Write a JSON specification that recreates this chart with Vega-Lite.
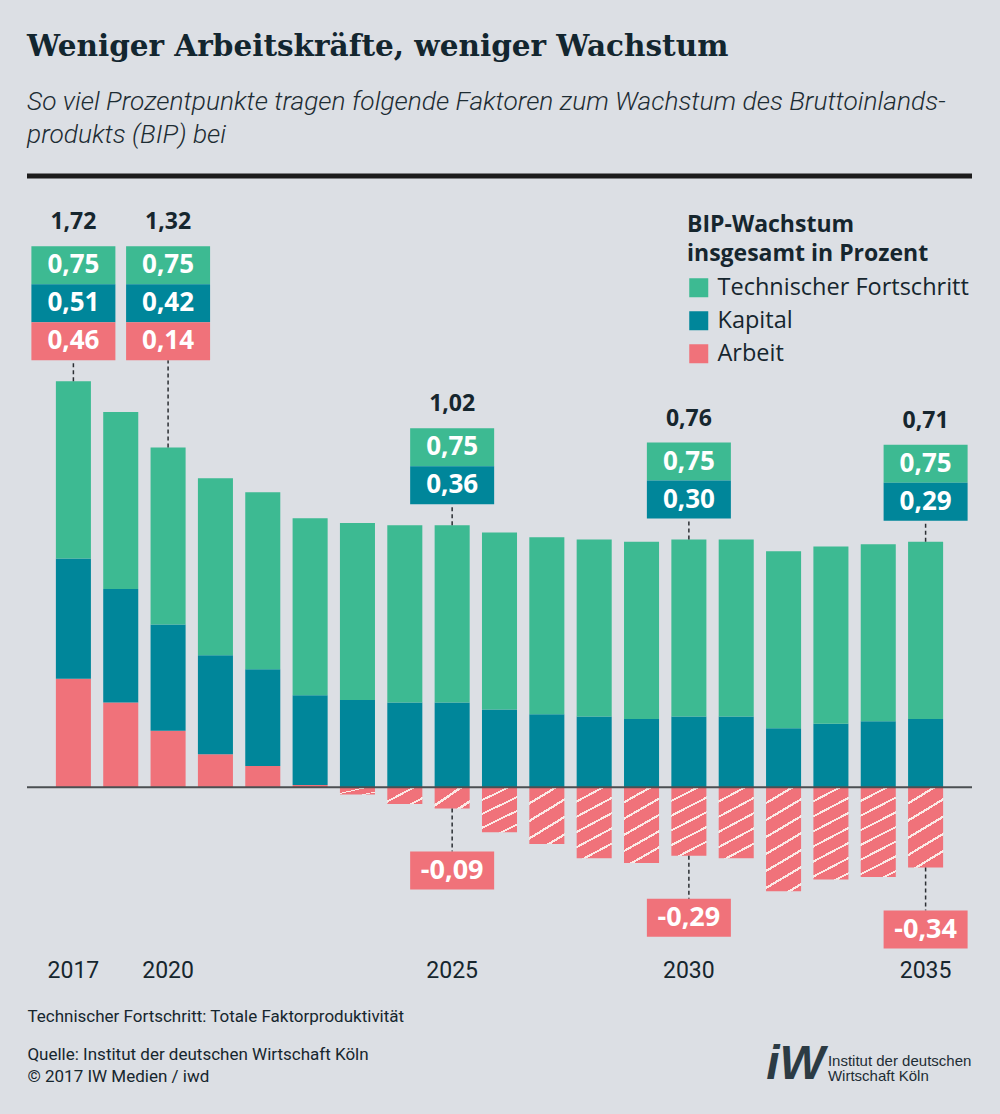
{
  "$schema": "https://vega.github.io/schema/vega-lite/v6.json",
  "width": 945,
  "height": 812,
  "padding": {"left": 24, "right": 31, "top": 31, "bottom": 40},
  "background": "#dcdfe4",
  "title": {
    "text": "Weniger Arbeitskräfte, weniger Wachstum",
    "subtitle": ["So viel Prozentpunkte tragen folgende Faktoren zum Wachstum des Bruttoinlands-", "produkts (BIP) bei"],
    "anchor": "start",
    "frame": "group",
    "font": "DejaVu Serif",
    "fontSize": 29.5,
    "fontWeight": "bold",
    "color": "#13262f",
    "subtitleFont": "Roboto",
    "subtitleFontSize": 26.3,
    "subtitleFontStyle": "italic",
    "subtitleFontWeight": 300,
    "subtitleColor": "#1d2c33",
    "subtitleLineHeight": 33,
    "subtitlePadding": 27,
    "offset": 24
  },
  "datasets": {
    "balken": [
      {"Jahr": "2017", "Faktor": "Arbeit", "Wert": 0.46}, {"Jahr": "2017", "Faktor": "Kapital", "Wert": 0.51}, {"Jahr": "2017", "Faktor": "Technischer Fortschritt", "Wert": 0.75},
      {"Jahr": "2018", "Faktor": "Arbeit", "Wert": 0.36}, {"Jahr": "2018", "Faktor": "Kapital", "Wert": 0.48}, {"Jahr": "2018", "Faktor": "Technischer Fortschritt", "Wert": 0.75},
      {"Jahr": "2019", "Faktor": "Arbeit", "Wert": 0.24}, {"Jahr": "2019", "Faktor": "Kapital", "Wert": 0.45}, {"Jahr": "2019", "Faktor": "Technischer Fortschritt", "Wert": 0.75},
      {"Jahr": "2020", "Faktor": "Arbeit", "Wert": 0.14}, {"Jahr": "2020", "Faktor": "Kapital", "Wert": 0.42}, {"Jahr": "2020", "Faktor": "Technischer Fortschritt", "Wert": 0.75},
      {"Jahr": "2021", "Faktor": "Arbeit", "Wert": 0.09}, {"Jahr": "2021", "Faktor": "Kapital", "Wert": 0.41}, {"Jahr": "2021", "Faktor": "Technischer Fortschritt", "Wert": 0.75},
      {"Jahr": "2022", "Faktor": "Arbeit", "Wert": 0.01}, {"Jahr": "2022", "Faktor": "Kapital", "Wert": 0.38}, {"Jahr": "2022", "Faktor": "Technischer Fortschritt", "Wert": 0.75},
      {"Jahr": "2023", "Faktor": "Arbeit", "Wert": -0.03}, {"Jahr": "2023", "Faktor": "Kapital", "Wert": 0.37}, {"Jahr": "2023", "Faktor": "Technischer Fortschritt", "Wert": 0.75},
      {"Jahr": "2024", "Faktor": "Arbeit", "Wert": -0.07}, {"Jahr": "2024", "Faktor": "Kapital", "Wert": 0.36}, {"Jahr": "2024", "Faktor": "Technischer Fortschritt", "Wert": 0.75},
      {"Jahr": "2025", "Faktor": "Arbeit", "Wert": -0.09}, {"Jahr": "2025", "Faktor": "Kapital", "Wert": 0.36}, {"Jahr": "2025", "Faktor": "Technischer Fortschritt", "Wert": 0.75},
      {"Jahr": "2026", "Faktor": "Arbeit", "Wert": -0.19}, {"Jahr": "2026", "Faktor": "Kapital", "Wert": 0.33}, {"Jahr": "2026", "Faktor": "Technischer Fortschritt", "Wert": 0.75},
      {"Jahr": "2027", "Faktor": "Arbeit", "Wert": -0.24}, {"Jahr": "2027", "Faktor": "Kapital", "Wert": 0.31}, {"Jahr": "2027", "Faktor": "Technischer Fortschritt", "Wert": 0.75},
      {"Jahr": "2028", "Faktor": "Arbeit", "Wert": -0.30}, {"Jahr": "2028", "Faktor": "Kapital", "Wert": 0.30}, {"Jahr": "2028", "Faktor": "Technischer Fortschritt", "Wert": 0.75},
      {"Jahr": "2029", "Faktor": "Arbeit", "Wert": -0.32}, {"Jahr": "2029", "Faktor": "Kapital", "Wert": 0.29}, {"Jahr": "2029", "Faktor": "Technischer Fortschritt", "Wert": 0.75},
      {"Jahr": "2030", "Faktor": "Arbeit", "Wert": -0.29}, {"Jahr": "2030", "Faktor": "Kapital", "Wert": 0.30}, {"Jahr": "2030", "Faktor": "Technischer Fortschritt", "Wert": 0.75},
      {"Jahr": "2031", "Faktor": "Arbeit", "Wert": -0.30}, {"Jahr": "2031", "Faktor": "Kapital", "Wert": 0.30}, {"Jahr": "2031", "Faktor": "Technischer Fortschritt", "Wert": 0.75},
      {"Jahr": "2032", "Faktor": "Arbeit", "Wert": -0.44}, {"Jahr": "2032", "Faktor": "Kapital", "Wert": 0.25}, {"Jahr": "2032", "Faktor": "Technischer Fortschritt", "Wert": 0.75},
      {"Jahr": "2033", "Faktor": "Arbeit", "Wert": -0.39}, {"Jahr": "2033", "Faktor": "Kapital", "Wert": 0.27}, {"Jahr": "2033", "Faktor": "Technischer Fortschritt", "Wert": 0.75},
      {"Jahr": "2034", "Faktor": "Arbeit", "Wert": -0.38}, {"Jahr": "2034", "Faktor": "Kapital", "Wert": 0.28}, {"Jahr": "2034", "Faktor": "Technischer Fortschritt", "Wert": 0.75},
      {"Jahr": "2035", "Faktor": "Arbeit", "Wert": -0.34}, {"Jahr": "2035", "Faktor": "Kapital", "Wert": 0.29}, {"Jahr": "2035", "Faktor": "Technischer Fortschritt", "Wert": 0.75}
    ],
    "anno": [
      {"Jahr": "2017", "Label": "2017", "Gruppe": "A", "Gesamt": 1.72, "Technik": 0.75, "Kapital": 0.51, "Arbeit": 0.46, "Oben": 1.72},
      {"Jahr": "2019", "Label": "2020", "Gruppe": "A", "Gesamt": 1.32, "Technik": 0.75, "Kapital": 0.42, "Arbeit": 0.14, "Oben": 1.44},
      {"Jahr": "2025", "Label": "2025", "Gruppe": "B", "Gesamt": 1.02, "Technik": 0.75, "Kapital": 0.36, "Arbeit": -0.09, "Oben": 1.11},
      {"Jahr": "2030", "Label": "2030", "Gruppe": "C", "Gesamt": 0.76, "Technik": 0.75, "Kapital": 0.30, "Arbeit": -0.29, "Oben": 1.05},
      {"Jahr": "2035", "Label": "2035", "Gruppe": "D", "Gesamt": 0.71, "Technik": 0.75, "Kapital": 0.29, "Arbeit": -0.34, "Oben": 1.04}
    ]
  },
  "data": {"name": "balken"},
  "layer": [
    {
      "transform": [{"filter": "datum.Wert > 0"}],
      "mark": {"type": "bar"},
      "encoding": {
        "x": {
          "field": "Jahr",
          "type": "ordinal",
          "title": null,
          "scale": {"paddingInner": 0.26, "paddingOuter": 0.61},
          "axis": null
        },
        "y": {
          "field": "Wert",
          "type": "quantitative",
          "stack": "zero",
          "scale": {"domain": [-0.85, 2.59], "nice": false, "zero": false}
        },
        "color": {
          "field": "Faktor",
          "type": "nominal",
          "scale": {
            "domain": ["Technischer Fortschritt", "Kapital", "Arbeit"],
            "range": ["#3dba92", "#00869a", "#f0727a"]
          },
          "legend": {
            "orient": "none",
            "legendX": 660,
            "legendY": 38,
            "title": ["BIP-Wachstum", "insgesamt in Prozent"],
            "titleFont": "Open Sans",
            "titleFontSize": 23,
            "titleFontWeight": "bold",
            "titleColor": "#16262e",
            "titleLineHeight": 29,
            "titlePadding": 10,
            "titleLimit": 400,
            "labelFont": "Open Sans",
            "labelFontSize": 23.5,
            "labelColor": "#16262e",
            "labelLimit": 400,
            "labelOffset": 7,
            "symbolType": "square",
            "symbolSize": 361,
            "symbolStrokeWidth": 0,
            "symbolOpacity": 1,
            "rowPadding": 8
          }
        },
        "order": {"field": "Faktor", "sort": "ascending"}
      }
    },
    {
      "transform": [{"filter": "datum.Wert < 0 && datum.Wert > -0.12"}],
      "mark": {
        "type": "bar",
        "color": {
          "gradient": "linear", "x1": 0, "y1": 0, "x2": 1.057, "y2": 0.9355,
          "stops": [
            {"offset": 0, "color": "#f0727a"}, {"offset": 0.3696, "color": "#f0727a"},
            {"offset": 0.3696, "color": "#fbeae6"}, {"offset": 0.4348, "color": "#fbeae6"},
            {"offset": 0.4348, "color": "#f0727a"}, {"offset": 0.8043, "color": "#f0727a"},
            {"offset": 0.8043, "color": "#fbeae6"}, {"offset": 0.8696, "color": "#fbeae6"},
            {"offset": 0.8696, "color": "#f0727a"}, {"offset": 1, "color": "#f0727a"}
          ]
        }
      },
      "encoding": {
        "x": {"field": "Jahr", "type": "ordinal", "axis": null},
        "y": {"field": "Wert", "type": "quantitative"}
      }
    },
    {
      "transform": [{"filter": "datum.Wert <= -0.12 && datum.Wert > -0.27"}],
      "mark": {
        "type": "bar",
        "color": {
          "gradient": "linear", "x1": 0, "y1": 0, "x2": 0.4545, "y2": 1.2057,
          "stops": [
            {"offset": 0, "color": "#f0727a"}, {"offset": 0.1902, "color": "#f0727a"},
            {"offset": 0.1902, "color": "#fbeae6"}, {"offset": 0.2237, "color": "#fbeae6"},
            {"offset": 0.2237, "color": "#f0727a"}, {"offset": 0.4139, "color": "#f0727a"},
            {"offset": 0.4139, "color": "#fbeae6"}, {"offset": 0.4474, "color": "#fbeae6"},
            {"offset": 0.4474, "color": "#f0727a"}, {"offset": 0.6376, "color": "#f0727a"},
            {"offset": 0.6376, "color": "#fbeae6"}, {"offset": 0.6711, "color": "#fbeae6"},
            {"offset": 0.6711, "color": "#f0727a"}, {"offset": 0.8613, "color": "#f0727a"},
            {"offset": 0.8613, "color": "#fbeae6"}, {"offset": 0.8948, "color": "#fbeae6"},
            {"offset": 0.8948, "color": "#f0727a"}, {"offset": 1, "color": "#f0727a"}
          ]
        }
      },
      "encoding": {
        "x": {"field": "Jahr", "type": "ordinal", "axis": null},
        "y": {"field": "Wert", "type": "quantitative"}
      }
    },
    {
      "transform": [{"filter": "datum.Wert <= -0.27 && datum.Wert > -0.36"}],
      "mark": {
        "type": "bar",
        "color": {
          "gradient": "linear", "x1": 0, "y1": 0, "x2": 0.312, "y2": 1.1817,
          "stops": [
            {"offset": 0, "color": "#f0727a"}, {"offset": 0.1446, "color": "#f0727a"},
            {"offset": 0.1446, "color": "#fbeae6"}, {"offset": 0.1701, "color": "#fbeae6"},
            {"offset": 0.1701, "color": "#f0727a"}, {"offset": 0.3147, "color": "#f0727a"},
            {"offset": 0.3147, "color": "#fbeae6"}, {"offset": 0.3401, "color": "#fbeae6"},
            {"offset": 0.3401, "color": "#f0727a"}, {"offset": 0.4847, "color": "#f0727a"},
            {"offset": 0.4847, "color": "#fbeae6"}, {"offset": 0.5102, "color": "#fbeae6"},
            {"offset": 0.5102, "color": "#f0727a"}, {"offset": 0.6548, "color": "#f0727a"},
            {"offset": 0.6548, "color": "#fbeae6"}, {"offset": 0.6803, "color": "#fbeae6"},
            {"offset": 0.6803, "color": "#f0727a"}, {"offset": 0.8248, "color": "#f0727a"},
            {"offset": 0.8248, "color": "#fbeae6"}, {"offset": 0.8503, "color": "#fbeae6"},
            {"offset": 0.8503, "color": "#f0727a"}, {"offset": 1, "color": "#f0727a"}
          ]
        }
      },
      "encoding": {
        "x": {"field": "Jahr", "type": "ordinal", "axis": null},
        "y": {"field": "Wert", "type": "quantitative"}
      }
    },
    {
      "transform": [{"filter": "datum.Wert <= -0.36"}],
      "mark": {
        "type": "bar",
        "color": {
          "gradient": "linear", "x1": 0, "y1": 0, "x2": 0.2308, "y2": 1.1538,
          "stops": [
            {"offset": 0, "color": "#f0727a"}, {"offset": 0.1158, "color": "#f0727a"},
            {"offset": 0.1158, "color": "#fbeae6"}, {"offset": 0.1362, "color": "#fbeae6"},
            {"offset": 0.1362, "color": "#f0727a"}, {"offset": 0.2520, "color": "#f0727a"},
            {"offset": 0.2520, "color": "#fbeae6"}, {"offset": 0.2725, "color": "#fbeae6"},
            {"offset": 0.2725, "color": "#f0727a"}, {"offset": 0.3883, "color": "#f0727a"},
            {"offset": 0.3883, "color": "#fbeae6"}, {"offset": 0.4087, "color": "#fbeae6"},
            {"offset": 0.4087, "color": "#f0727a"}, {"offset": 0.5245, "color": "#f0727a"},
            {"offset": 0.5245, "color": "#fbeae6"}, {"offset": 0.5450, "color": "#fbeae6"},
            {"offset": 0.5450, "color": "#f0727a"}, {"offset": 0.6608, "color": "#f0727a"},
            {"offset": 0.6608, "color": "#fbeae6"}, {"offset": 0.6812, "color": "#fbeae6"},
            {"offset": 0.6812, "color": "#f0727a"}, {"offset": 0.7970, "color": "#f0727a"},
            {"offset": 0.7970, "color": "#fbeae6"}, {"offset": 0.8174, "color": "#fbeae6"},
            {"offset": 0.8174, "color": "#f0727a"}, {"offset": 0.9332, "color": "#f0727a"},
            {"offset": 0.9332, "color": "#fbeae6"}, {"offset": 0.9537, "color": "#fbeae6"},
            {"offset": 0.9537, "color": "#f0727a"}, {"offset": 1, "color": "#f0727a"}
          ]
        }
      },
      "encoding": {
        "x": {"field": "Jahr", "type": "ordinal", "axis": null},
        "y": {"field": "Wert", "type": "quantitative"}
      }
    },
    {
      "data": {"values": [{}]},
      "mark": {"type": "rule", "color": "#4b4f52", "strokeWidth": 2},
      "encoding": {"y": {"datum": 0}}
    },
    {
      "data": {"values": [{}]},
      "mark": {"type": "rule", "color": "#1c1c1c", "strokeWidth": 5},
      "encoding": {"y": {"datum": 2.59}}
    },
    {
      "data": {"name": "anno"},
      "transform": [{"joinaggregate": [{"op": "max", "field": "Oben", "as": "Anker"}], "groupby": ["Gruppe"]}],
      "encoding": {"x": {"field": "Jahr", "type": "ordinal", "axis": null}},
      "layer": [
        {
          "mark": {"type": "rule", "strokeDash": [4, 3], "color": "#2b2f33", "strokeWidth": 1.5, "y2Offset": -21},
          "encoding": {"y": {"field": "Oben", "type": "quantitative"}, "y2": {"field": "Anker"}}
        },
        {
          "transform": [{"filter": "datum.Arbeit < 0"}],
          "mark": {"type": "rule", "strokeDash": [4, 3], "color": "#2b2f33", "strokeWidth": 1.5, "y2Offset": 43},
          "encoding": {"y": {"field": "Arbeit", "type": "quantitative"}, "y2": {"field": "Arbeit"}}
        },
        {
          "transform": [{"filter": "datum.Arbeit > 0"}],
          "mark": {"type": "bar", "width": 84, "color": "#3dba92", "yOffset": -135, "y2Offset": -97},
          "encoding": {"y": {"field": "Anker", "type": "quantitative"}, "y2": {"field": "Anker"}}
        },
        {
          "transform": [{"filter": "datum.Arbeit > 0"}],
          "mark": {"type": "bar", "width": 84, "color": "#00869a", "yOffset": -97, "y2Offset": -59},
          "encoding": {"y": {"field": "Anker", "type": "quantitative"}, "y2": {"field": "Anker"}}
        },
        {
          "transform": [{"filter": "datum.Arbeit > 0"}],
          "mark": {"type": "bar", "width": 84, "color": "#f0727a", "yOffset": -59, "y2Offset": -21},
          "encoding": {"y": {"field": "Anker", "type": "quantitative"}, "y2": {"field": "Anker"}}
        },
        {
          "transform": [{"filter": "datum.Arbeit > 0"}],
          "mark": {"type": "text", "font": "Open Sans", "fontWeight": "bold", "fontSize": 26, "color": "white", "baseline": "middle", "yOffset": -116},
          "encoding": {"y": {"field": "Anker", "type": "quantitative"}, "text": {"field": "Technik", "type": "quantitative", "format": ".2f"}}
        },
        {
          "transform": [{"filter": "datum.Arbeit > 0"}],
          "mark": {"type": "text", "font": "Open Sans", "fontWeight": "bold", "fontSize": 26, "color": "white", "baseline": "middle", "yOffset": -78},
          "encoding": {"y": {"field": "Anker", "type": "quantitative"}, "text": {"field": "Kapital", "type": "quantitative", "format": ".2f"}}
        },
        {
          "transform": [{"filter": "datum.Arbeit > 0"}],
          "mark": {"type": "text", "font": "Open Sans", "fontWeight": "bold", "fontSize": 26, "color": "white", "baseline": "middle", "yOffset": -40},
          "encoding": {"y": {"field": "Anker", "type": "quantitative"}, "text": {"field": "Arbeit", "type": "quantitative", "format": ".2f"}}
        },
        {
          "transform": [{"filter": "datum.Arbeit > 0"}],
          "mark": {"type": "text", "font": "Open Sans", "fontWeight": "bold", "fontSize": 23, "color": "#16262e", "baseline": "middle", "yOffset": -159},
          "encoding": {"y": {"field": "Anker", "type": "quantitative"}, "text": {"field": "Gesamt", "type": "quantitative", "format": ".2f"}}
        },
        {
          "transform": [{"filter": "datum.Arbeit < 0"}],
          "mark": {"type": "bar", "width": 84, "color": "#3dba92", "yOffset": -97, "y2Offset": -59},
          "encoding": {"y": {"field": "Anker", "type": "quantitative"}, "y2": {"field": "Anker"}}
        },
        {
          "transform": [{"filter": "datum.Arbeit < 0"}],
          "mark": {"type": "bar", "width": 84, "color": "#00869a", "yOffset": -59, "y2Offset": -21},
          "encoding": {"y": {"field": "Anker", "type": "quantitative"}, "y2": {"field": "Anker"}}
        },
        {
          "transform": [{"filter": "datum.Arbeit < 0"}],
          "mark": {"type": "bar", "width": 84, "color": "#f0727a", "yOffset": 43, "y2Offset": 81},
          "encoding": {"y": {"field": "Arbeit", "type": "quantitative"}, "y2": {"field": "Arbeit"}}
        },
        {
          "transform": [{"filter": "datum.Arbeit < 0"}],
          "mark": {"type": "text", "font": "Open Sans", "fontWeight": "bold", "fontSize": 26, "color": "white", "baseline": "middle", "yOffset": -78},
          "encoding": {"y": {"field": "Anker", "type": "quantitative"}, "text": {"field": "Technik", "type": "quantitative", "format": ".2f"}}
        },
        {
          "transform": [{"filter": "datum.Arbeit < 0"}],
          "mark": {"type": "text", "font": "Open Sans", "fontWeight": "bold", "fontSize": 26, "color": "white", "baseline": "middle", "yOffset": -40},
          "encoding": {"y": {"field": "Anker", "type": "quantitative"}, "text": {"field": "Kapital", "type": "quantitative", "format": ".2f"}}
        },
        {
          "transform": [{"filter": "datum.Arbeit < 0"}],
          "mark": {"type": "text", "font": "Open Sans", "fontWeight": "bold", "fontSize": 23, "color": "#16262e", "baseline": "middle", "yOffset": -121},
          "encoding": {"y": {"field": "Anker", "type": "quantitative"}, "text": {"field": "Gesamt", "type": "quantitative", "format": ".2f"}}
        },
        {
          "transform": [{"filter": "datum.Arbeit < 0"}],
          "mark": {"type": "text", "font": "Open Sans", "fontWeight": "bold", "fontSize": 27, "color": "white", "baseline": "middle", "yOffset": 62},
          "encoding": {"y": {"field": "Arbeit", "type": "quantitative"}, "text": {"field": "Arbeit", "type": "quantitative", "format": ".2f"}}
        },
        {
          "mark": {"type": "text", "font": "Roboto", "fontSize": 23, "color": "#16262e", "baseline": "middle"},
          "encoding": {"y": {"datum": -0.78}, "text": {"field": "Label", "type": "nominal"}}
        }
      ]
    },
    {
      "data": {"values": [{}]},
      "mark": {"type": "text", "font": "Roboto", "fontSize": 17, "color": "#16262e", "align": "left", "baseline": "top", "dx": -46},
      "encoding": {
        "x": {"datum": "2017", "type": "ordinal", "axis": null},
        "y": {"datum": -0.94},
        "text": {"value": "Technischer Fortschritt: Totale Faktorproduktivität"}
      }
    },
    {
      "data": {"values": [{}]},
      "mark": {"type": "text", "font": "Roboto", "fontSize": 17, "color": "#16262e", "align": "left", "baseline": "top", "lineHeight": 22, "dx": -46},
      "encoding": {
        "x": {"datum": "2017", "type": "ordinal", "axis": null},
        "y": {"datum": -1.1},
        "text": {"value": ["Quelle: Institut der deutschen Wirtschaft Köln", "© 2017 IW Medien / iwd"]}
      }
    },
    {
      "data": {"values": [{}]},
      "mark": {"type": "text", "font": "Liberation Sans", "fontSize": 48, "fontWeight": "bold", "fontStyle": "italic", "color": "#2c3b44", "align": "right", "baseline": "top", "dx": -6},
      "encoding": {
        "x": {"datum": "2033", "type": "ordinal", "axis": null},
        "y": {"datum": -1.074},
        "text": {"value": "iW"}
      }
    },
    {
      "data": {"values": [{}]},
      "mark": {"type": "text", "font": "Liberation Sans", "fontSize": 15, "color": "#1e2d35", "align": "left", "baseline": "top", "lineHeight": 15, "dx": -3},
      "encoding": {
        "x": {"datum": "2033", "type": "ordinal", "axis": null},
        "y": {"datum": -1.13},
        "text": {"value": ["Institut der deutschen", "Wirtschaft Köln"]}
      }
    }
  ],
  "config": {
    "view": {"stroke": null},
    "font": "Roboto",
    "axisY": {"disable": true},
    "locale": {
      "number": {"decimal": ",", "thousands": ".", "grouping": [3], "currency": ["", " €"], "minus": "-"}
    }
  }
}
